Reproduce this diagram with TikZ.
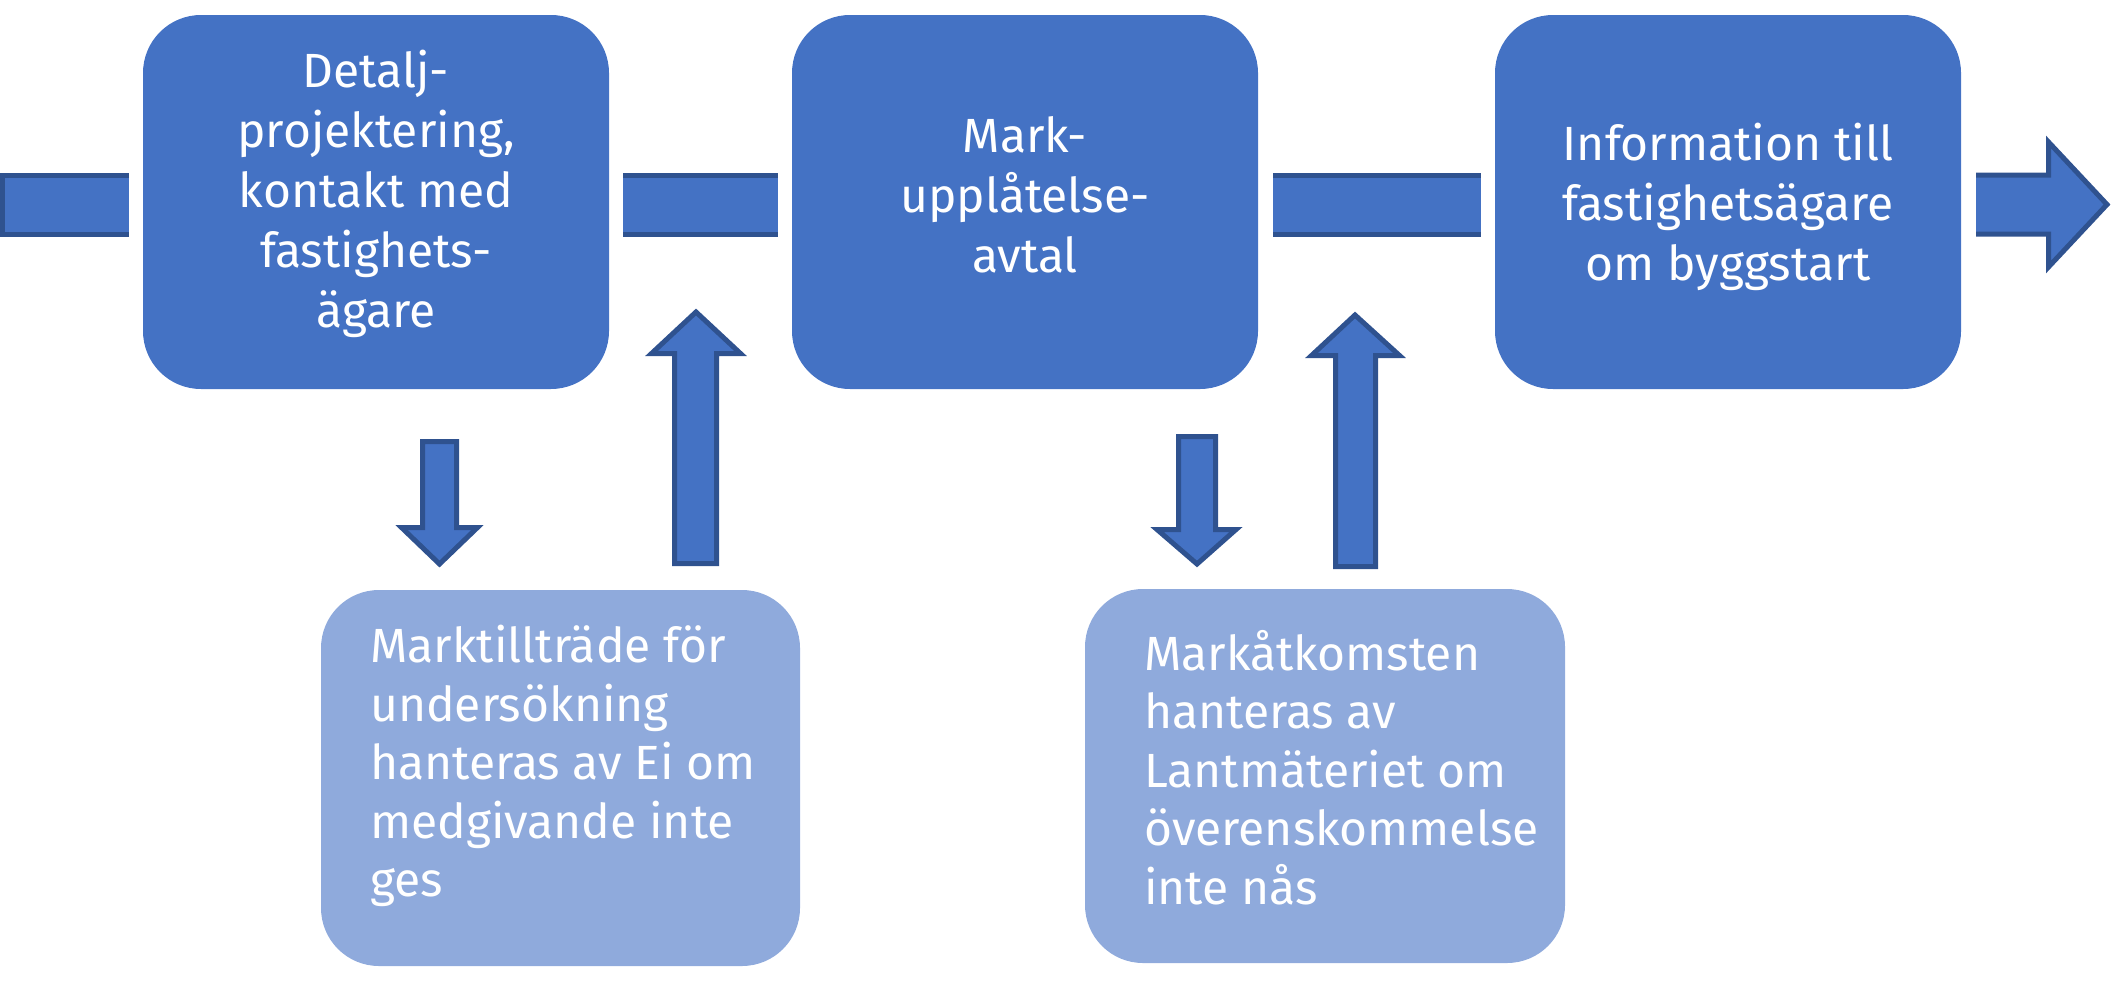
\documentclass[tikz,border=0pt]{standalone}
\usepackage{fontspec}
\setmainfont{Fira Sans}
\definecolor{mainblue}{HTML}{4472C4}
\definecolor{edgeblue}{HTML}{2F528F}
\definecolor{lightblue}{HTML}{8FAADC}
\begin{document}
\begin{tikzpicture}[x=1pt,y=-1pt,
  stepbox/.style={fill=mainblue, rounded corners=58pt, inner sep=0pt, minimum width=466pt, minimum height=374pt},
  steptext/.style={text=white, align=center, font=\fontsize{48}{60}\selectfont, inner sep=0pt},
  notebox/.style={fill=lightblue, rounded corners=58pt, inner sep=0pt},
  notetext/.style={text=white, align=left, font=\fontsize{48}{58.5}\selectfont, inner sep=0pt, anchor=north west},
  blockarrow/.style={fill=mainblue, draw=edgeblue, line width=5pt, line join=miter},
  baredge/.style={draw=edgeblue, line width=5pt}]
\useasboundingbox (0,0) rectangle (2112,980);

% horizontal bars
\fill[mainblue] (0,175) rectangle (129,234);
\draw[baredge] (129,175) -- (2.5,175) -- (2.5,234) -- (129,234);
\fill[mainblue] (623,175) rectangle (778,234);
\draw[baredge] (623,175) -- (778,175) (623,234) -- (778,234);
\fill[mainblue] (1273,175) rectangle (1481,234);
\draw[baredge] (1273,175) -- (1481,175) (1273,234) -- (1481,234);
\fill[mainblue] (1976,175) -- (2048.5,175) -- (2048.5,142) -- (2107,204.5) -- (2048.5,267) -- (2048.5,234) -- (1976,234) -- cycle;
\draw[baredge, line join=miter] (1976,175) -- (2048.5,175) -- (2048.5,142) -- (2107,204.5) -- (2048.5,267) -- (2048.5,234) -- (1976,234);

% step boxes
\node[stepbox] (b1) at (376,202) {};
\node[stepbox] (b2) at (1025,202) {};
\node[stepbox] (b3) at (1728,202) {};
\node[steptext] (l1) at (376,194) {Detalj-\\projektering,\\kontakt med\\fastighets-\\ägare};
\node[steptext] (l2) at (1025,195) {Mark-\\upplåtelse-\\avtal};
\node[steptext] (l3) at (1728,207) {Information till\\fastighetsägare\\om byggstart};

% note boxes
\node[notebox, minimum width=479pt, minimum height=376pt] (n1) at (560.5,778) {};
\node[notebox, minimum width=480pt, minimum height=374pt] (n2) at (1325,776) {};
\node[notetext] (t1) at (370,625) {Marktillträde för\\undersökning\\hanteras av Ei om\\medgivande inte\\ges};
\node[notetext] (t2) at (1144,630) {Markåtkomsten\\hanteras av\\Lantmäteriet om\\överenskommelse\\inte nås};

% vertical arrows
\draw[blockarrow] (422.5,441.5) -- (456.5,441.5) -- (456.5,527.5) -- (477.5,527.5) -- (439.5,564) -- (401.5,527.5) -- (422.5,527.5) -- cycle;
\draw[blockarrow] (674.5,563.5) -- (716.5,563.5) -- (716.5,353.5) -- (740.5,353.5) -- (696,312) -- (651.5,353.5) -- (674.5,353.5) -- cycle;
\draw[blockarrow] (1178.5,436.5) -- (1215.5,436.5) -- (1215.5,529.5) -- (1236,529.5) -- (1197,564) -- (1157,529.5) -- (1178.5,529.5) -- cycle;
\draw[blockarrow] (1335.5,566.5) -- (1375.5,566.5) -- (1375.5,355.5) -- (1399.5,355.5) -- (1355,315) -- (1311.5,355.5) -- (1335.5,355.5) -- cycle;
\end{tikzpicture}
\end{document}
